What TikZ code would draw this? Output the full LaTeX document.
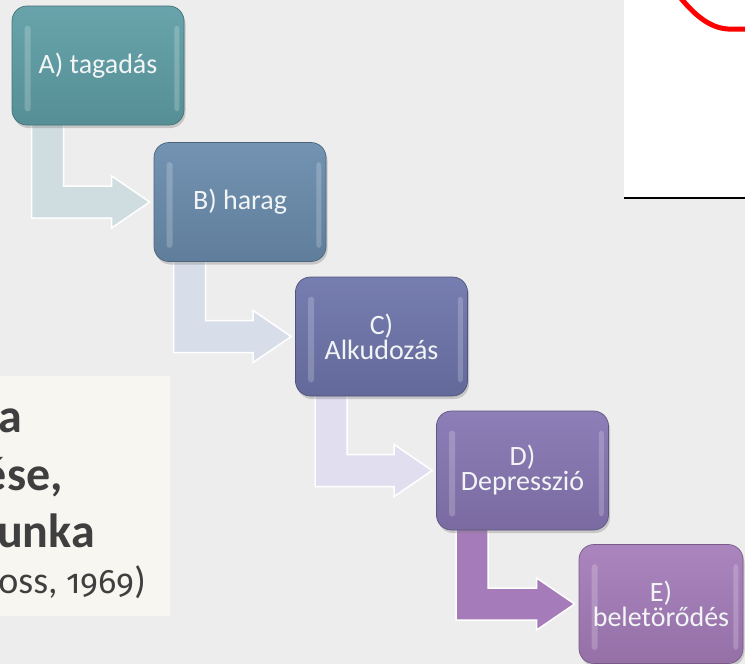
\documentclass[tikz,border=0pt]{standalone}
\usepackage{fontspec}
\setmainfont{Carlito}
\newfontfamily\numfont[Numbers=OldStyle]{Fira Sans}
\usetikzlibrary{calc,shadows}
\definecolor{bgc}{HTML}{EDEDED}
\definecolor{beige}{HTML}{F8F6F0}
\definecolor{txt}{HTML}{3F3F3F}
\definecolor{cA}{HTML}{5F9EA6}
\definecolor{cB}{HTML}{6A8CAD}
\definecolor{cC}{HTML}{6E75AB}
\definecolor{cD}{HTML}{8776B3}
\definecolor{cE}{HTML}{A57DBA}
\definecolor{aAB}{HTML}{CFDDE0}
\definecolor{aBC}{HTML}{D8DEE9}
\definecolor{aCD}{HTML}{E1DFEF}
\definecolor{aDE}{HTML}{A57BBA}
\definecolor{lbl}{HTML}{F2F5F5}
\pgfdeclarelayer{back}
\pgfdeclarelayer{arr}
\pgfsetlayers{back,arr,main}
\newcommand{\bentarrow}[3]{%
  \fill[#3, draw=white, line width=1.5pt]
    ($(#1.south west)+(20,-3)$) -- ($(#1.south west)+(52,-3)$)
    -- ($(#1.south west |- #2.west)+(52,-16)$)
    -- ($(#2.west)+(-42,-16)$) -- ($(#2.west)+(-42,-26)$)
    -- ($(#2.west)+(-4,0)$)
    -- ($(#2.west)+(-42,26)$) -- ($(#2.west)+(-42,16)$)
    -- ($(#1.south west |- #2.west)+(20,16)$) -- cycle;}
\begin{document}
\begin{tikzpicture}[x=1pt,y=-1pt,
  box/.style={rounded corners=15pt, minimum width=172pt, minimum height=119pt,
    inner sep=2pt, align=center, text=lbl, font=\fontsize{28}{25}\selectfont,
    draw=#1!72!black, line width=0.7pt, top color=#1!94!white, bottom color=#1!90!black,
    drop shadow={opacity=.35, shadow xshift=1.5pt, shadow yshift=-3pt}},
  hl/.style={white, opacity=.2, rounded corners=3pt},
  quote/.style={anchor=base east, inner sep=0pt, text=txt}]
\useasboundingbox (0,0) rectangle (745,664);
\clip (0,0) rectangle (745,664);
\begin{pgfonlayer}{back}
  \fill[bgc] (0,0) rectangle (745,664);
  % white panel with red mark
  \fill[white] (624,0) rectangle (745,198);
  \draw[black, line width=1.5pt] (624,198) -- (745,198);
  \draw[red, line width=5pt] (679,-4) .. controls (692,12) and (708,28) .. (728,29) -- (748,29);
  % beige quote box
  \fill[beige] (0,376) rectangle (170,616);
  \begin{scope}
    \clip (0,376) rectangle (170,616);
    \node[quote, font=\fontsize{48}{48}\selectfont\bfseries] (q1) at (22,432) {a};
    \node[quote, font=\fontsize{48}{48}\selectfont\bfseries] (q2) at (63,490) {ése,};
    \node[quote, font=\fontsize{48}{48}\selectfont\bfseries] (q3) at (95,547) {unka};
    \node[quote, font=\fontsize{38}{38}\selectfont] (q4) at (146,593) {oss, {\numfont\fontsize{34}{34}\selectfont 1969})};
  \end{scope}
\end{pgfonlayer}

\node[box=cA] (A) at (98,65.5) {A) tagadás};
\node[box=cB] (B) at (240,202) {B) harag};
\node[box=cC] (C) at (381.5,336.5) {C)\\Alkudozás};
\node[box=cD] (D) at (522.5,470.5) {D)\\Depresszió};
\node[box=cE, minimum width=164pt] (E) at (661,604) {E)\\beletörődés};

\foreach \n in {A,B,C,D,E}{
  \fill[hl] ($(\n.north west)+(13,20)$) rectangle ($(\n.south west)+(19,-14)$);
  \fill[hl] ($(\n.north east)+(-10,20)$) rectangle ($(\n.south east)+(-5,-14)$);
}

\begin{pgfonlayer}{arr}
  \bentarrow{A}{B}{aAB}
  \bentarrow{B}{C}{aBC}
  \bentarrow{C}{D}{aCD}
  \bentarrow{D}{E}{aDE}
\end{pgfonlayer}
\end{tikzpicture}
\end{document}
